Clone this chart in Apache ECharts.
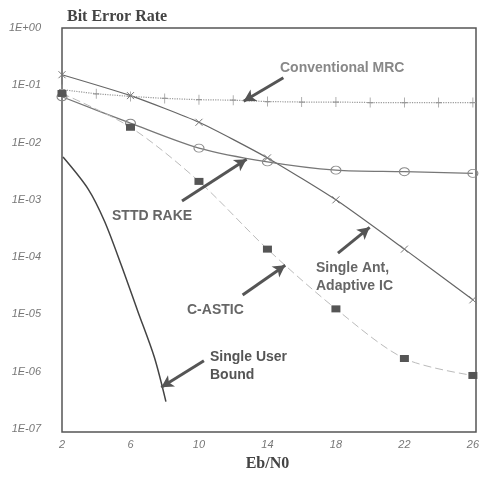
<!DOCTYPE html>
<html><head><meta charset="utf-8">
<script src="https://cdn.jsdelivr.net/npm/echarts@6/dist/echarts.min.js"></script>
<style>html,body{margin:0;padding:0;background:#fff}#c{width:482px;height:477px}</style>
</head><body><div id="c"></div>
<script>
var xTicks = [2, 6, 10, 14, 18, 22, 26];
var yTickLabels = ['1E+00','1E-01','1E-02','1E-03','1E-04','1E-05','1E-06','1E-07'];

var mrcX = [2,4,6,8,10,12,14,16,18,20,22,24,26];
var mrcY = [0.084,0.071,0.064,0.059,0.056,0.055,0.052,0.051,0.051,0.050,0.050,0.050,0.050];

var antX = [2,6,10,14,18,22,26];
var antY = [0.153,0.066,0.0226,0.0054,0.0010,0.000138,0.000018];

var sttdX = [2,6,10,14,18,22,26];
var sttdY = [0.063,0.0218,0.0080,0.0046,0.0033,0.0031,0.0029];

var casticX = [2,6,10,14,18,22,26];
var casticY = [0.072,0.0185,0.0021,0.000138,0.0000125,0.0000017,0.00000086];

var subX = [2.06,3.52,4.49,5.46,6.42,7.39,8.07];
var subY = [0.0056,0.00156,0.00042,0.000073,0.0000115,0.0000018,0.00000030];

function pairs(xs, ys){ return xs.map(function(x,i){ return [x, ys[i]]; }); }

var plus = 'path://M0,-1L0,1M-1,0L1,0';
var cross = 'path://M-1,-1L1,1M-1,1L1,-1';

var chart = echarts.init(document.getElementById('c'));
var arrowStyle = {color:'#555', width:3, type:'solid'};
function arrow(x1,l1,x2,l2){ return [{coord:[x1,Math.pow(10,l1)]},{coord:[x2,Math.pow(10,l2)]}]; }

chart.setOption({
  animation:false,
  backgroundColor:'#fff',
  title:{text:'Bit Error Rate', left:62, top:4, textStyle:{fontFamily:'Liberation Serif', fontWeight:'bold', fontSize:16, color:'#444'}},
  grid:{left:62, right:6, top:28, bottom:45},
  xAxis:{type:'value', min:2, max:26, interval:4,
    name:'Eb/N0', nameLocation:'middle', nameGap:27,
    nameTextStyle:{fontFamily:'Liberation Serif', fontWeight:'bold', fontSize:16, color:'#444'},
    axisLine:{show:false}, axisTick:{show:false}, splitLine:{show:false},
    axisLabel:{fontStyle:'italic', fontFamily:'Liberation Sans', fontSize:11, color:'#777', margin:10,
      formatter:function(v){ return xTicks.indexOf(v)>=0 ? String(v) : ''; }}
  },
  yAxis:{type:'log', logBase:10, min:1e-7, max:1,
    axisLine:{show:false}, axisTick:{show:false}, splitLine:{show:false},
    axisLabel:{fontStyle:'italic', fontFamily:'Liberation Sans', fontSize:11, color:'#777', margin:21,
      formatter:function(v){ var i=Math.round(-Math.log10(v)); return yTickLabels[i]||''; }}
  },
  graphic:[
    {type:'rect', shape:{x:62,y:28,width:414,height:404}, style:{fill:'none', stroke:'#555', lineWidth:1.5}, silent:true},
    {type:'text', left:280, top:61, style:{text:'Conventional MRC', fill:'#888', font:'bold 14px "Liberation Sans"'}},
    {type:'text', left:112, top:209, style:{text:'STTD RAKE', fill:'#666', font:'bold 14px "Liberation Sans"'}},
    {type:'text', left:316, top:259, style:{text:'Single Ant,\nAdaptive IC', fill:'#666', font:'bold 14px "Liberation Sans"', lineHeight:18}},
    {type:'text', left:187, top:303, style:{text:'C-ASTIC', fill:'#666', font:'bold 14px "Liberation Sans"'}},
    {type:'text', left:210, top:348, style:{text:'Single User\nBound', fill:'#555', font:'bold 14px "Liberation Sans"', lineHeight:18}}
  ],
  series:[
    {name:'Conventional MRC', type:'line', data:pairs(mrcX,mrcY), symbol:plus, symbolSize:[6,10],
      lineStyle:{color:'#999', width:1.2, type:'dotted'}, itemStyle:{color:'#fff', borderColor:'#999', borderWidth:1}},
    {name:'Single Ant, Adaptive IC', type:'line', data:pairs(antX,antY), symbol:cross, symbolSize:7, smooth:0.2,
      lineStyle:{color:'#666', width:1.2}, itemStyle:{color:'#fff', borderColor:'#777', borderWidth:1}},
    {name:'STTD RAKE', type:'line', data:pairs(sttdX,sttdY), symbol:'circle', symbolSize:[10,8], smooth:0.3,
      lineStyle:{color:'#777', width:1.2}, itemStyle:{color:'rgba(255,255,255,0)', borderColor:'#888', borderWidth:1}},
    {name:'C-ASTIC', type:'line', data:pairs(casticX,casticY), symbol:'rect', symbolSize:[9,7], smooth:0.3,
      lineStyle:{color:'#bbb', width:1, type:[8,4]}, itemStyle:{color:'#555'}},
    {name:'Single User Bound', type:'line', data:pairs(subX,subY), symbol:'none', smooth:0.3,
      lineStyle:{color:'#444', width:1.5}},
    {name:'arrows', type:'line', data:[], markLine:{silent:true, symbol:['none','arrow'], symbolSize:[10,12],
      label:{show:false}, lineStyle:arrowStyle,
      data:[
        arrow(14.93,-0.867,12.61,-1.28),
        arrow(9.01,-3.02,12.78,-2.29),
        arrow(18.12,-3.93,19.97,-3.48),
        arrow(12.55,-4.66,15.04,-4.14),
        arrow(10.29,-5.81,7.80,-6.27)
      ]}}
  ]
});
</script></body></html>
